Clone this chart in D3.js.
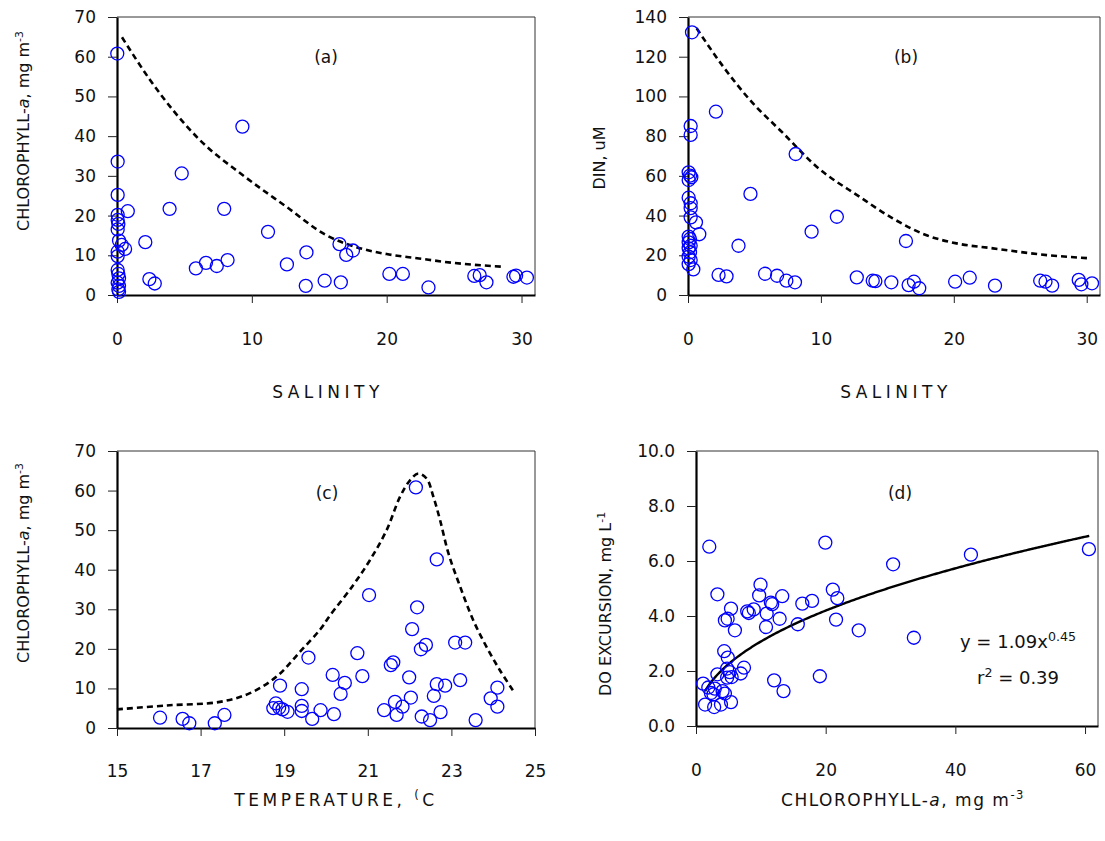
<!DOCTYPE html>
<html>
<head>
<meta charset="utf-8">
<script src="https://cdn.jsdelivr.net/npm/d3@7/dist/d3.min.js"></script>
<style>
  html, body { margin: 0; padding: 0; background: #fff; }
  svg { display: block; font-family: "DejaVu Sans", Verdana, sans-serif; }
  .tick text { fill: #111; }
</style>
</head>
<body>
<svg id="chart" width="1105" height="841"></svg>
<script>
// ---- (a) chlorophyll-a vs salinity ----
const salinityA = [0.02, 9.3, 0.05, 4.8, 0.05, 0.8, 3.9, 7.95, 0.05, 0.05, 0.1, 0.05, 11.2, 0.15, 0.35, 0.6, 0.05, 0.05, 2.1, 14.05,
  5.85, 6.6, 7.4, 8.2, 12.6, 2.4, 2.8, 14.0, 15.4, 0.05, 0.1, 0.15, 0.05, 0.15, 0.1, 0.15, 16.5, 17.0, 17.5, 16.6,
  20.2, 21.2, 23.1, 26.5, 26.9, 27.4, 29.4, 29.6, 30.4];
const chlA = [60.8, 42.4, 33.6, 30.6, 25.2, 21.1, 21.7, 21.7, 20.2, 18.9, 17.9, 16.5, 15.9, 13.7, 12.6, 11.6, 10.9, 9.8, 13.3, 10.75,
  6.7, 8.1, 7.3, 8.8, 7.7, 4.0, 2.9, 2.3, 3.6, 6.3, 5.3, 4.2, 3.1, 2.3, 1.4, 0.8, 12.8, 10.1, 11.2, 3.2,
  5.3, 5.3, 1.9, 4.8, 5.0, 3.2, 4.6, 4.9, 4.4];
// upper envelope
const envSalA = [0.37, 2.44, 6.15, 9.36, 12.57, 15.5, 18.0, 20.0, 22.4, 24.9, 28.7];
const envChlA = [64.9, 54.2, 39.0, 30.1, 22.2, 15.1, 11.8, 10.3, 9.2, 8.1, 7.1];

// ---- (b) DIN vs salinity ----
const salinityB = [0.3, 2.1, 0.2, 0.2, 8.1, 0.05, 0.15, 0.25, 0.05, 4.7, 0.05, 0.2, 0.2, 0.2, 0.6, 11.2, 0.85, 9.3, 0.05, 0.15,
  0.05, 0.2, 0.05, 0.15, 0.05, 0.2, 0.05, 0.4, 3.8, 2.3, 2.9, 5.8, 6.7, 7.4, 8.05, 12.7, 13.9, 14.1, 15.3, 16.4,
  16.6, 17.0, 17.4, 20.1, 21.2, 23.1, 26.5, 26.9, 27.4, 29.4, 29.6, 30.4];
const dinB = [132.3, 92.3, 85.1, 80.6, 71.0, 61.8, 60.1, 59.3, 57.9, 50.9, 49.0, 46.2, 43.7, 39.1, 36.6, 39.4, 30.6, 31.9, 29.4, 28.2,
  26.5, 24.8, 23.5, 21.5, 19.3, 17.6, 15.5, 12.9, 24.8, 10.1, 9.4, 10.7, 9.7, 7.2, 6.4, 8.9, 7.2, 7.0, 6.4, 27.2,
  5.0, 6.7, 3.4, 6.7, 8.7, 4.7, 7.2, 6.7, 4.7, 7.6, 5.4, 5.9];
const envSalB = [0.65, 2.65, 4.66, 7.17, 9.68, 12.9, 15.4, 17.9, 20.2, 22.95, 27.0, 30.2];
const envDinB = [134.3, 115, 98.2, 81.4, 64.6, 49.5, 38.6, 30.2, 26, 23.5, 20.1, 18.5];

// ---- (c) chlorophyll-a vs temperature ----
const tempC = [16.03, 16.57, 16.73, 17.34, 17.57, 18.9, 18.74, 18.8, 18.88, 18.96, 19.08, 19.42, 19.42, 19.42, 19.58, 19.67, 19.87,
  20.16, 20.19, 20.35, 20.45, 20.87, 20.75, 21.03, 21.39, 21.55, 21.61, 21.65, 21.69, 21.83, 21.99, 22.03, 22.06, 22.15,
  22.18, 22.27, 22.39, 22.29, 22.49, 22.58, 22.65, 22.85, 22.65, 22.74, 23.09, 23.33, 23.21, 23.58, 23.94, 24.1, 24.1];
const chlC = [2.6, 2.3, 1.2, 1.2, 3.3, 10.7, 5.0, 6.2, 5.1, 4.7, 4.1, 9.8, 5.6, 4.3, 17.8, 2.3, 4.5,
  13.4, 3.5, 8.6, 11.4, 13.1, 18.9, 33.6, 4.5, 15.9, 16.6, 6.6, 3.3, 5.4, 12.8, 7.7, 25.0, 60.8,
  30.5, 19.9, 21.0, 2.9, 2.0, 8.1, 11.1, 10.7, 42.6, 4.0, 21.6, 21.6, 12.1, 2.0, 7.5, 10.2, 5.4];
const envTempC = [15.0, 16.19, 17.46, 18.18, 18.82, 19.38, 19.86, 20.1, 20.65, 21.05, 21.45, 21.77, 22.01, 22.21, 22.41,
  22.57, 22.73, 22.93, 23.21, 23.52, 23.84, 24.16, 24.48];
const envChlC = [4.7, 5.7, 6.6, 8.8, 13.0, 19.3, 24.9, 28.5, 36.1, 42.4, 50, 58.4, 62.6, 64.3, 63.0,
  58.4, 52.5, 44.1, 35.7, 27.3, 20.5, 14.6, 9.4];

// ---- (d) DO excursion vs chlorophyll-a ----
const chlD = [2.05, 19.95, 3.3, 9.95, 9.74, 21.1, 21.8, 13.3, 11.55, 11.75, 16.4, 17.9, 5.4, 7.9, 8.9, 8.15, 10.9, 12.9, 21.6,
  4.46, 4.88, 10.8, 6.0, 15.7, 25.1, 4.35, 4.9, 3.3, 4.8, 5.2, 4.8, 5.5, 6.9, 7.4, 1.1, 1.9, 2.3, 2.9, 2.7, 4.1,
  4.46, 1.4, 2.8, 3.85, 5.4, 12.05, 13.5, 19.1, 30.4, 42.4, 60.6, 33.6];
const doD = [6.52, 6.67, 4.79, 5.14, 4.75, 4.96, 4.65, 4.72, 4.49, 4.43, 4.45, 4.55, 4.27, 4.17, 4.24, 4.11, 4.09, 3.9, 3.87,
  3.84, 3.9, 3.6, 3.48, 3.7, 3.48, 2.72, 2.49, 1.88, 2.09, 1.96, 1.76, 1.78, 1.91, 2.12, 1.54, 1.4, 1.2, 1.36, 1.15, 1.27,
  1.18, 0.78, 0.69, 0.78, 0.87, 1.66, 1.27, 1.81, 5.88, 6.23, 6.43, 3.21];
// power-law fit y = a * x^b
const fitA = 1.09, fitB = 0.45, fitR2 = 0.39;
const fitRange = [1.4, 60.7];

// ---- tick values ----
const salinityTicks = [0, 10, 20, 30];
const chlTicks = [0, 10, 20, 30, 40, 50, 60, 70];
const dinTicks = [0, 20, 40, 60, 80, 100, 120, 140];
const tempTicks = [15, 17, 19, 21, 23, 25];
const chlTicksD = [0, 20, 40, 60];
const doTicks = [0, 2, 4, 6, 8, 10];

const svg = d3.select("#chart");

function panel(cfg) {
  const x = d3.scaleLinear().domain(cfg.xDomain).range([cfg.left, cfg.right]);
  const y = d3.scaleLinear().domain(cfg.yDomain).range([cfg.bottom, cfg.top]);
  const g = svg.append("g");

  // thin frame on top and right
  g.append("path")
    .attr("d", `M${cfg.left},${cfg.top}H${cfg.right}V${cfg.bottom}`)
    .attr("fill", "none").attr("stroke", "#333").attr("stroke-width", 1);

  const yAxis = g.append("g").attr("transform", `translate(${cfg.left},0)`)
    .call(d3.axisLeft(y).tickValues(cfg.yTicks).tickFormat(cfg.yFormat).tickSize(9).tickPadding(12).tickSizeOuter(0));
  const xAxis = g.append("g").attr("transform", `translate(0,${cfg.bottom})`)
    .call(d3.axisBottom(x).tickValues(cfg.xTicks).tickFormat(d3.format("d")).tickSize(8).tickPadding(cfg.xPad).tickSizeOuter(0));
  [yAxis, xAxis].forEach(a => {
    a.select(".domain").attr("stroke", "#000").attr("stroke-width", 2.2);
    a.selectAll(".tick line").attr("stroke", "#222").attr("stroke-width", 1);
    a.selectAll(".tick text").attr("font-size", 17).attr("font-family", "DejaVu Sans, Verdana, sans-serif");
  });

  // curve
  if (cfg.curve) {
    const pts = cfg.curve.xs.map((v, i) => [v, cfg.curve.ys[i]]);
    g.append("path").datum(pts)
      .attr("d", d3.line().x(d => x(d[0])).y(d => y(d[1])).curve(cfg.curve.type))
      .attr("fill", "none").attr("stroke", "#000")
      .attr("stroke-width", cfg.curve.width)
      .attr("stroke-dasharray", cfg.curve.dash || null);
  }

  // points
  const pts = cfg.xs.map((v, i) => [v, cfg.ys[i]]);
  g.append("g").selectAll("circle").data(pts).join("circle")
    .attr("cx", d => x(d[0])).attr("cy", d => y(d[1])).attr("r", 6.5)
    .attr("fill", "none").attr("stroke", "#0000ff").attr("stroke-width", 1.3);

  // panel letter
  g.append("text").attr("x", cfg.tag[0]).attr("y", cfg.tag[1])
    .attr("text-anchor", "middle").attr("font-size", 17).attr("fill", "#111").text(cfg.label);

  // x title
  const xt = g.append("text").attr("x", cfg.xTitlePos[0]).attr("y", cfg.xTitlePos[1])
    .attr("text-anchor", "middle").attr("font-size", 17).attr("fill", "#111")
    .attr("letter-spacing", cfg.xTitleSpacing);
  cfg.xTitle.forEach(p => addPart(xt, p));

  // y title
  const yt = g.append("text")
    .attr("transform", `translate(${cfg.yTitlePos[0]},${cfg.yTitlePos[1]}) rotate(-90)`)
    .attr("text-anchor", "middle").attr("font-size", 16).attr("fill", "#111");
  cfg.yTitle.forEach(p => addPart(yt, p));
  return { x, y, g };
}

function addPart(t, p) {
  const s = t.append("tspan").text(p.t);
  if (p.i) s.attr("font-style", "italic");
  if (p.sup) s.attr("font-size", "0.68em").attr("baseline-shift", "super");
}

const chlTitle = [{ t: "CHLOROPHYLL-" }, { t: "a", i: true }, { t: ", mg m" }, { t: "-3", sup: true }];

panel({
  xs: salinityA, ys: chlA, xDomain: [0, 31], yDomain: [0, 70],
  xTicks: salinityTicks, yTicks: chlTicks, yFormat: d3.format("d"),
  left: 117, right: 535, top: 17, bottom: 295, xPad: 30,
  curve: { xs: envSalA, ys: envChlA, type: d3.curveMonotoneX, width: 2.6, dash: "6,4" },
  label: "(a)", tag: [326, 63],
  xTitle: [{ t: "SALINITY" }], xTitlePos: [328, 398], xTitleSpacing: 4.5,
  yTitle: chlTitle, yTitlePos: [29, 131]
});

panel({
  xs: salinityB, ys: dinB, xDomain: [0, 31], yDomain: [0, 140],
  xTicks: salinityTicks, yTicks: dinTicks, yFormat: d3.format("d"),
  left: 688, right: 1100, top: 17, bottom: 295, xPad: 30,
  curve: { xs: envSalB, ys: envDinB, type: d3.curveMonotoneX, width: 2.6, dash: "6,4" },
  label: "(b)", tag: [906, 63],
  xTitle: [{ t: "SALINITY" }], xTitlePos: [896, 398], xTitleSpacing: 4.5,
  yTitle: [{ t: "DIN, uM" }], yTitlePos: [605, 158]
});

panel({
  xs: tempC, ys: chlC, xDomain: [15, 25], yDomain: [0, 70],
  xTicks: tempTicks, yTicks: chlTicks, yFormat: d3.format("d"),
  left: 117, right: 535, top: 451, bottom: 728, xPad: 29,
  curve: { xs: envTempC, ys: envChlC, type: d3.curveCatmullRom, width: 2.6, dash: "6,4" },
  label: "(c)", tag: [327, 499],
  xTitle: [{ t: "TEMPERATURE, " }, { t: "(", sup: true }, { t: "C" }], xTitlePos: [336, 806], xTitleSpacing: 3.5,
  yTitle: chlTitle, yTitlePos: [29, 563]
});

const pd = panel({
  xs: chlD, ys: doD, xDomain: [0, 62], yDomain: [0, 10],
  xTicks: chlTicksD, yTicks: doTicks, yFormat: d3.format(".1f"),
  left: 696, right: 1098, top: 451, bottom: 726, xPad: 30,
  curve: {
    xs: d3.range(fitRange[0], fitRange[1] + 0.01, 0.25),
    ys: d3.range(fitRange[0], fitRange[1] + 0.01, 0.25).map(v => fitA * Math.pow(v, fitB)),
    type: d3.curveLinear, width: 2.4
  },
  label: "(d)", tag: [900, 499],
  xTitle: chlTitle, xTitlePos: [903, 806], xTitleSpacing: 1.5,
  yTitle: [{ t: "DO EXCURSION, mg L" }, { t: "-1", sup: true }], yTitlePos: [611, 604]
});

// fit equation
const eq = pd.g.append("text").attr("x", 960).attr("y", 648).attr("font-size", 18).attr("fill", "#111");
eq.append("tspan").text(`y = ${fitA.toFixed(2)}x`);
eq.append("tspan").attr("font-size", "0.7em").attr("baseline-shift", "super").text(fitB.toFixed(2));
const r2 = pd.g.append("text").attr("x", 977).attr("y", 684).attr("font-size", 18).attr("fill", "#111");
r2.append("tspan").text("r");
r2.append("tspan").attr("font-size", "0.7em").attr("baseline-shift", "super").text("2");
r2.append("tspan").text(` = ${fitR2.toFixed(2)}`);
</script>
</body>
</html>
